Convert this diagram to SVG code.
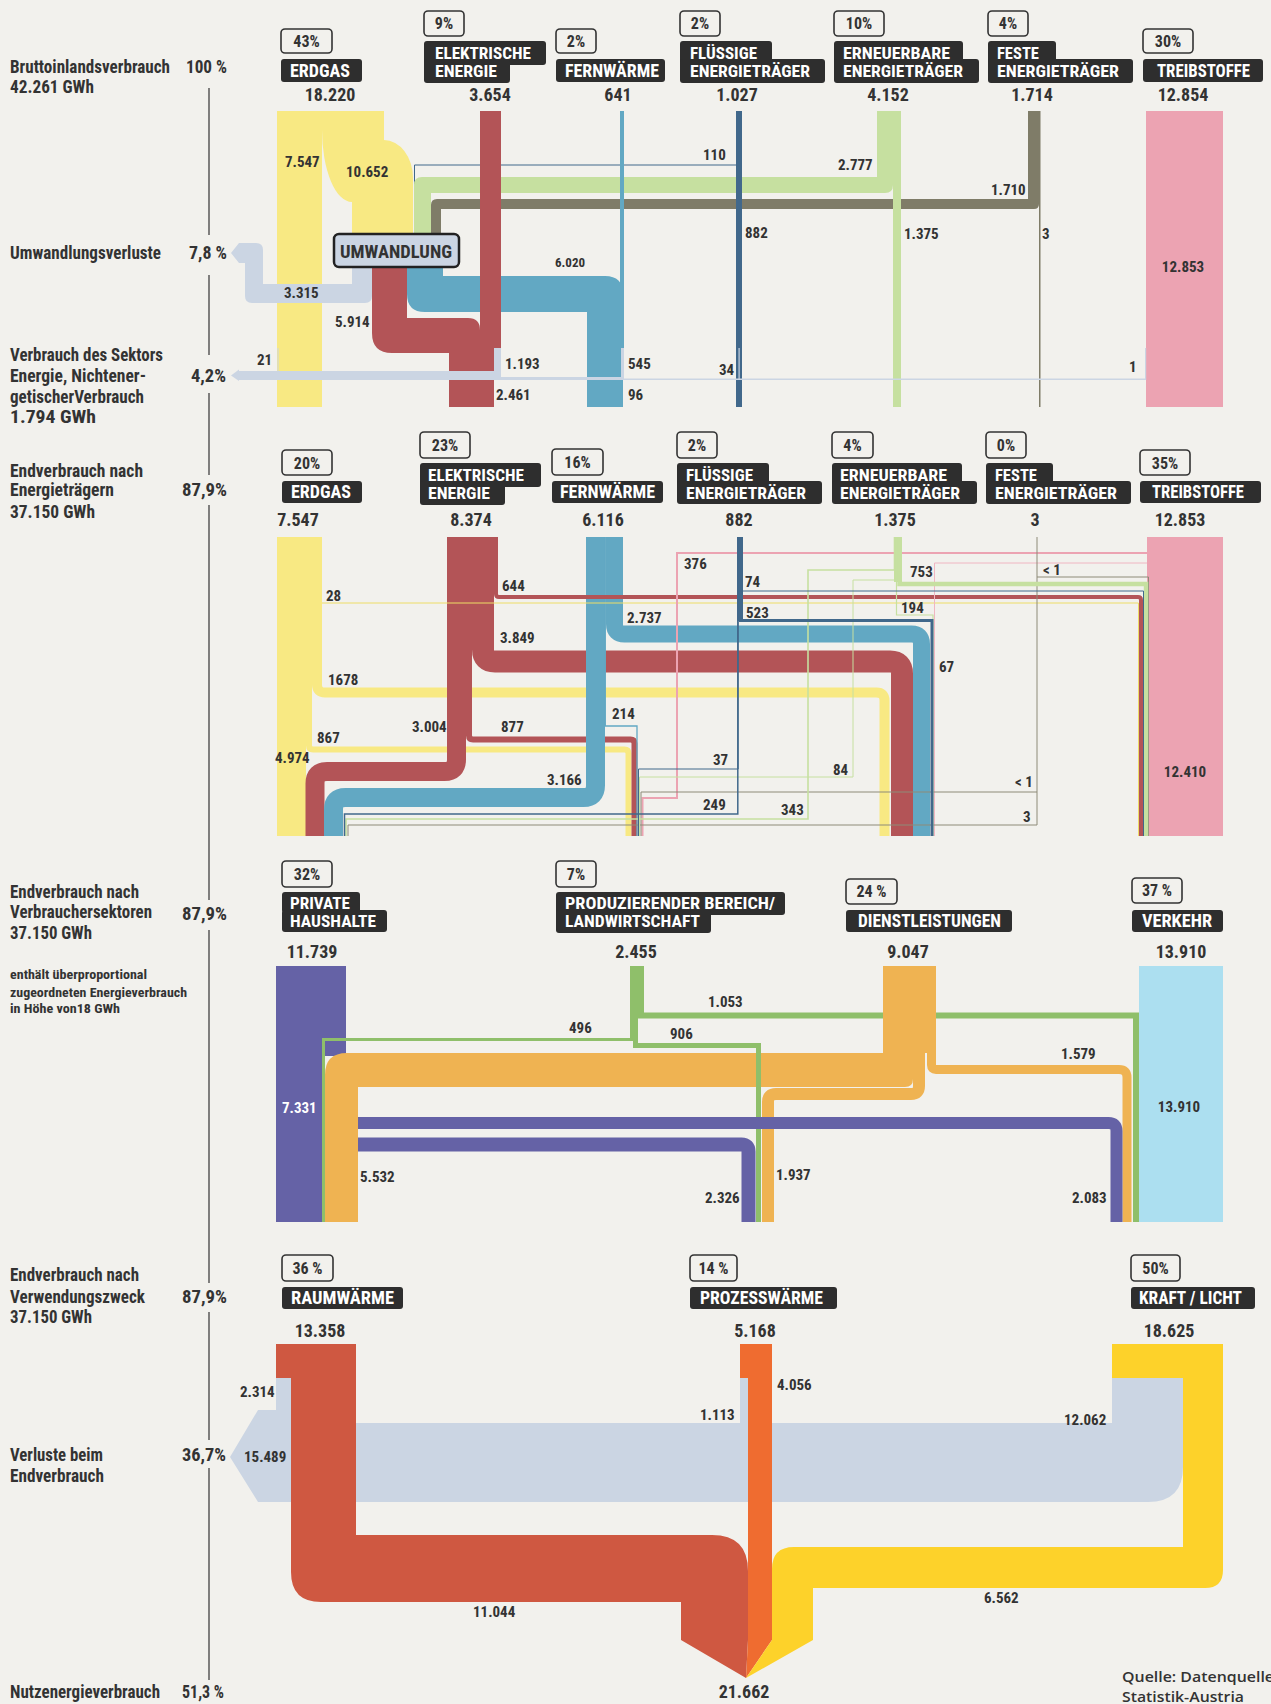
<svg xmlns="http://www.w3.org/2000/svg" width="1271" height="1704" viewBox="0 0 1271 1704">
<defs>
<style>
text{font-family:'Liberation Sans Narrow','Roboto Condensed','DejaVu Sans Condensed','Liberation Sans',sans-serif;font-weight:700;fill:#333}
.l{font-size:18px}
.s{font-size:13px}
.h{font-size:18px;fill:#fff}
.h2{font-size:17px;fill:#fff}
.p{font-size:16px;text-anchor:middle}
.v{font-size:18px;text-anchor:middle}
.f{font-size:15px}
.fm{font-size:15px;text-anchor:middle}
.w{fill:#fff}
.hb{fill:#2e2e2e}
.pb{fill:none;stroke:#333;stroke-width:1.6}
.ax{stroke:#333;stroke-width:1.2}
.q{font-family:'Open Sans','Liberation Sans',sans-serif;font-weight:600;font-size:15px}
.b{fill:none}
.cy{stroke:#f8e983}.cr{stroke:#b35457}.cb{stroke:#62a8c3}.cs{stroke:#41688b}.cg{stroke:#c6e0a0}.cf{stroke:#8e8b78}.cp{stroke:#eca3b2}
.cpu{stroke:#6562a6}.co{stroke:#efb352}.cgr{stroke:#8fbf6a}
</style>
</defs>
<rect width="1271" height="1704" fill="#f2f1ed"/>

<g id="legend">
<line class="ax" x1="209" y1="88" x2="209" y2="235"/>
<line class="ax" x1="209" y1="275" x2="209" y2="355"/>
<line class="ax" x1="209" y1="393" x2="209" y2="475"/>
<line class="ax" x1="209" y1="505" x2="209" y2="900"/>
<line class="ax" x1="209" y1="930" x2="209" y2="1283"/>
<line class="ax" x1="209" y1="1312" x2="209" y2="1440"/>
<line class="ax" x1="209" y1="1468" x2="209" y2="1680"/>
<text class="l" x="10" y="73" textLength="160" lengthAdjust="spacingAndGlyphs">Bruttoinlandsverbrauch</text>
<text class="l" x="10" y="93" textLength="84" lengthAdjust="spacingAndGlyphs">42.261 GWh</text>
<text class="l" x="186" y="73" textLength="41" lengthAdjust="spacingAndGlyphs">100 %</text>
<text class="l" x="10" y="259" textLength="151" lengthAdjust="spacingAndGlyphs">Umwandlungsverluste</text>
<text class="l" x="189" y="259" textLength="38" lengthAdjust="spacingAndGlyphs">7,8 %</text>
<text class="l" x="10" y="361" textLength="153" lengthAdjust="spacingAndGlyphs">Verbrauch des Sektors</text>
<text class="l" x="10" y="382" textLength="136" lengthAdjust="spacingAndGlyphs">Energie, Nichtener-</text>
<text class="l" x="10" y="403" textLength="134" lengthAdjust="spacingAndGlyphs">getischerVerbrauch</text>
<text class="l" x="10" y="423" textLength="86" lengthAdjust="spacingAndGlyphs">1.794 GWh</text>
<text class="l" x="191" y="382" textLength="35" lengthAdjust="spacingAndGlyphs">4,2%</text>
<text class="l" x="10" y="477" textLength="133" lengthAdjust="spacingAndGlyphs">Endverbrauch nach</text>
<text class="l" x="10" y="496" textLength="104" lengthAdjust="spacingAndGlyphs">Energieträgern</text>
<text class="l" x="10" y="518" textLength="85" lengthAdjust="spacingAndGlyphs">37.150 GWh</text>
<text class="l" x="182" y="496" textLength="45" lengthAdjust="spacingAndGlyphs">87,9%</text>
<text class="l" x="10" y="898" textLength="129" lengthAdjust="spacingAndGlyphs">Endverbrauch nach</text>
<text class="l" x="10" y="918" textLength="142" lengthAdjust="spacingAndGlyphs">Verbrauchersektoren</text>
<text class="l" x="10" y="939" textLength="82" lengthAdjust="spacingAndGlyphs">37.150 GWh</text>
<text class="l" x="182" y="920" textLength="45" lengthAdjust="spacingAndGlyphs">87,9%</text>
<text class="s" x="10" y="979" textLength="137" lengthAdjust="spacingAndGlyphs">enthält überproportional</text>
<text class="s" x="10" y="997" textLength="177" lengthAdjust="spacingAndGlyphs">zugeordneten Energieverbrauch</text>
<text class="s" x="10" y="1013" textLength="110" lengthAdjust="spacingAndGlyphs">in Höhe von18 GWh</text>
<text class="l" x="10" y="1281" textLength="129" lengthAdjust="spacingAndGlyphs">Endverbrauch nach</text>
<text class="l" x="10" y="1303" textLength="135" lengthAdjust="spacingAndGlyphs">Verwendungszweck</text>
<text class="l" x="10" y="1323" textLength="82" lengthAdjust="spacingAndGlyphs">37.150 GWh</text>
<text class="l" x="182" y="1303" textLength="45" lengthAdjust="spacingAndGlyphs">87,9%</text>
<text class="l" x="10" y="1461" textLength="93" lengthAdjust="spacingAndGlyphs">Verluste beim</text>
<text class="l" x="10" y="1482" textLength="94" lengthAdjust="spacingAndGlyphs">Endverbrauch</text>
<text class="l" x="182" y="1461" textLength="44" lengthAdjust="spacingAndGlyphs">36,7%</text>
<text class="l" x="10" y="1698" textLength="150" lengthAdjust="spacingAndGlyphs">Nutzenergieverbrauch</text>
<text class="l" x="182" y="1698" textLength="42" lengthAdjust="spacingAndGlyphs">51,3 %</text>
<text class="q" x="1122" y="1682" textLength="152" lengthAdjust="spacingAndGlyphs">Quelle: Datenquelle</text>
<text class="q" x="1122" y="1702" textLength="122" lengthAdjust="spacingAndGlyphs">Statistik-Austria</text>
</g>

<g id="connectors">
<!-- section 1 -->
<path d="M414.5,234V165H737" fill="none" stroke="#41688b" stroke-width="1"/>
<path fill="#7f7c68" d="M431,234V205Q431,199 437,199H1028V111H1039V204Q1039,209 1034,209H441V234Z"/>
<path fill="#c6e0a0" d="M414,234V185Q414,177 422,177H877V111H893V185Q893,193 885,193H431V234Z"/>
<rect fill="#f8e983" x="277" y="111" width="45" height="296"/>
<path fill="#f8e983" d="M322,111H384V140A29,38 0 0 1 413,178V234H352V202A30,72 0 0 1 322,130Z"/>
<path fill="#62a8c3" d="M407,267H443V276H605Q623,276 623,294V407H587V312H425Q407,312 407,294Z"/>
<path fill="#b35457" d="M372,267H407V318H468Q480,318 480,330V407H449V353H392Q372,353 372,333Z"/>
<rect fill="#b35457" x="480" y="111" width="21" height="237"/>
<rect fill="#b35457" x="480" y="348" width="14" height="59"/>
<rect fill="#62a8c3" x="620" y="111" width="4" height="237"/>
<rect fill="#41688b" x="736" y="111" width="6" height="296"/>
<rect fill="#c6e0a0" x="893" y="111" width="8" height="296"/>
<rect fill="#7f7c68" x="1039" y="111" width="1.5" height="296"/>
<rect fill="#eca3b2" x="1146" y="111" width="77" height="296"/>
<path fill="#cbd5e3" d="M352,267H372V296Q372,303 365,303H252Q245,303 245,296V263H239L231,253L239,243H256Q263,243 263,250V284H352Z"/>
<g fill="#cbd5e3">
<rect x="238" y="371" width="263" height="9"/>
<rect x="501" y="377" width="123" height="3"/>
<rect x="624" y="378.5" width="522" height="1.5"/>
<rect x="494" y="348" width="7" height="32"/>
<rect x="621" y="348" width="3" height="32"/>
<rect x="738.5" y="348" width="1.2" height="32"/>
<rect x="1145" y="348" width="1.2" height="32"/>
<rect x="277.5" y="348" width="1" height="25"/>
<path d="M231,375.5L239,369.5V381Z"/>
</g>

<!-- section 2 -->
<rect fill="#f8e983" x="277" y="537" width="29" height="299"/>
<path class="b cy" stroke-width="10" d="M317,537V684.5Q317,692.5 325,692.5H876.5Q884.5,692.5 884.5,700.5V836"/>
<path class="b cy" stroke-width="6" d="M309,537V745.5Q309,749.5 313,749.5H624.5Q628.5,749.5 628.5,753.5V836"/>
<path class="b cr" stroke-width="19" d="M456.5,537V759.5Q456.5,771.5 444.5,771.5H327Q315,771.5 315,783.5V836"/>
<path class="b cr" stroke-width="6" d="M469,537V735.5Q469,739.5 473,739.5H630.5Q634.5,739.5 634.5,743.5V836"/>
<path class="b cr" stroke-width="22" d="M483,537V649.5Q483,661.5 495,661.5H890Q902,661.5 902,673.5V836"/>
<path class="b cb" stroke-width="19" d="M595.5,537V785.5Q595.5,797.5 583.5,797.5H345.5Q333.5,797.5 333.5,809.5V836"/>
<path class="b cb" stroke-width="17" d="M614.5,537V624Q614.5,634 624.5,634H911.5Q921.5,634 921.5,644V836"/>
<path class="b cb" stroke-width="1.3" d="M605.3,537V726H637V836"/>
<path class="b cr" stroke-width="4" d="M496,537V594Q496,597 499,597H1138Q1141,597 1141,600V836"/>
<path class="b" stroke="#eedd66" stroke-width="1" d="M322,603H1138.5V836"/>
<rect fill="#eca3b2" x="1147" y="537" width="76" height="299"/>
<path class="b cp" stroke-width="2" d="M1147,553H677V798H642.5V836"/>
<path class="b" stroke="#f0b6c2" stroke-width="1" d="M1147,563H934.5V836"/>
<path class="b cf" stroke-width="1" d="M1037,537V577H1148.5V836"/>
<path class="b cf" stroke-width="1" d="M1037,577V792H641V836"/>
<path class="b cf" stroke-width="1" d="M1037,792V825H348V836"/>
<rect fill="#c6e0a0" x="894" y="537" width="8" height="45"/>
<path class="b cg" stroke-width="1.6" d="M894.5,537V570H808V819H346V836"/>
<path class="b cg" stroke-width="1" d="M895.5,537V580H853V777H639.5V836"/>
<path class="b cg" stroke-width="1.2" d="M896.5,537V615H933V836"/>
<path class="b cg" stroke-width="4.4" d="M899.5,537V584H1146V836"/>
<rect fill="#41688b" x="737" y="537" width="6" height="84"/>
<path class="b cs" stroke-width="1" d="M742.5,537V591H1143.5V836"/>
<path class="b cs" stroke-width="3" d="M740.5,537V620.5H932V836"/>
<path class="b cs" stroke-width="1" d="M738.2,537V769H638.5V836"/>
<path class="b cs" stroke-width="1.5" d="M737.8,537V814H344.5V836"/>

<!-- section 3 -->
<rect fill="#6562a6" x="276" y="966" width="70" height="90"/>
<rect fill="#6562a6" x="276" y="966" width="46" height="256"/>
<rect fill="#acdff0" x="1139" y="966" width="84" height="256"/>
<path fill="#efb352" d="M883,966H913V1079Q913,1087 905,1087H358V1222H325V1075Q325,1053 347,1053H883Z"/>
<path class="b cgr" stroke-width="3" d="M631.5,966V1039.5H323.5V1222"/>
<path class="b cgr" stroke-width="5" d="M635.5,966V1045.5H758.5V1222"/>
<path class="b cgr" stroke-width="6" d="M641,966V1015.5H1136V1222"/>
<rect fill="#efb352" x="883" y="966" width="53" height="87"/>
<path class="b co" stroke-width="12" d="M919,966V1086Q919,1094 911,1094H776Q768,1094 768,1102V1222"/>
<path class="b co" stroke-width="9" d="M931.5,966V1065Q931.5,1069.5 936,1069.5H1119Q1127,1069.5 1127,1077.5V1222"/>
<path class="b cpu" stroke-width="12" d="M358,1123H1108.5Q1116.5,1123 1116.5,1131V1222"/>
<path class="b cpu" stroke-width="14" d="M358,1144.5H741.5Q748.5,1144.5 748.5,1151.5V1222"/>

<!-- section 4 -->
<path fill="#cbd5e3" d="M276,1378H291V1423H740V1378H748V1423H1112V1378H1183V1467Q1183,1502 1148,1502H258L230,1457L258,1410H276Z"/>
<rect fill="#cf5841" x="276" y="1344" width="80" height="34"/>
<path fill="#cf5841" d="M291,1344H356V1535H712Q748,1535 748,1571V1640L746,1678L681,1640V1602H321Q291,1602 291,1572Z"/>
<rect fill="#ef6c30" x="740" y="1344" width="32" height="34"/>
<path fill="#ef6c30" d="M748,1344H772V1640L746,1678L748,1640Z"/>
<rect fill="#fdd22a" x="1112" y="1344" width="111" height="34"/>
<path fill="#fdd22a" d="M1183,1344H1223V1570Q1223,1588 1205,1588H813V1640L746,1678L772,1640V1569Q772,1547 794,1547H1183Z"/>
</g>

<!-- section 1 nodes -->
<g id="node-erdgas-1">
<rect class="pb" x="281" y="29" width="51" height="24" rx="4"/><text class="p" x="306.5" y="47">43%</text>
<rect class="hb" x="281" y="59" width="81" height="23" rx="3"/><text class="h" x="290" y="77" textLength="60" lengthAdjust="spacingAndGlyphs">ERDGAS</text>
<text class="v" x="330" y="101">18.220</text>
</g>
<g id="node-elektrische-1">
<rect class="pb" x="424" y="11" width="40" height="25" rx="4"/><text class="p" x="444" y="29">9%</text>
<rect class="hb" x="424" y="41" width="122" height="24" rx="3"/><rect class="hb" x="424" y="59" width="86" height="24" rx="3"/>
<text class="h2"><tspan x="435" y="59" textLength="96" lengthAdjust="spacingAndGlyphs">ELEKTRISCHE</tspan><tspan x="435" y="77" textLength="62" lengthAdjust="spacingAndGlyphs">ENERGIE</tspan></text>
<text class="v" x="490" y="101">3.654</text>
</g>
<g id="node-fernwaerme-1">
<rect class="pb" x="556" y="29" width="40" height="24" rx="4"/><text class="p" x="576" y="47">2%</text>
<rect class="hb" x="556" y="59" width="109" height="23" rx="3"/><text class="h" x="565" y="77" textLength="94" lengthAdjust="spacingAndGlyphs">FERNWÄRME</text>
<text class="v" x="618" y="101">641</text>
</g>
<g id="node-fluessige-1">
<rect class="pb" x="680" y="11" width="40" height="25" rx="4"/><text class="p" x="700" y="29">2%</text>
<rect class="hb" x="680" y="41" width="92" height="24" rx="3"/><rect class="hb" x="680" y="59" width="145" height="24" rx="3"/>
<text class="h2"><tspan x="690" y="59" textLength="67" lengthAdjust="spacingAndGlyphs">FLÜSSIGE</tspan><tspan x="690" y="77" textLength="120" lengthAdjust="spacingAndGlyphs">ENERGIETRÄGER</tspan></text>
<text class="v" x="737" y="101">1.027</text>
</g>
<g id="node-erneuerbare-1">
<rect class="pb" x="834" y="11" width="50" height="25" rx="4"/><text class="p" x="859" y="29">10%</text>
<rect class="hb" x="834" y="41" width="129" height="24" rx="3"/><rect class="hb" x="834" y="59" width="145" height="24" rx="3"/>
<text class="h2"><tspan x="843" y="59" textLength="107" lengthAdjust="spacingAndGlyphs">ERNEUERBARE</tspan><tspan x="843" y="77" textLength="120" lengthAdjust="spacingAndGlyphs">ENERGIETRÄGER</tspan></text>
<text class="v" x="888" y="101">4.152</text>
</g>
<g id="node-feste-1">
<rect class="pb" x="988" y="11" width="40" height="25" rx="4"/><text class="p" x="1008" y="29">4%</text>
<rect class="hb" x="988" y="41" width="68" height="24" rx="3"/><rect class="hb" x="988" y="59" width="145" height="24" rx="3"/>
<text class="h2"><tspan x="997" y="59" textLength="42" lengthAdjust="spacingAndGlyphs">FESTE</tspan><tspan x="997" y="77" textLength="122" lengthAdjust="spacingAndGlyphs">ENERGIETRÄGER</tspan></text>
<text class="v" x="1032" y="101">1.714</text>
</g>
<g id="node-treibstoffe-1">
<rect class="pb" x="1143" y="29" width="50" height="24" rx="4"/><text class="p" x="1168" y="47">30%</text>
<rect class="hb" x="1143" y="59" width="120" height="23" rx="3"/><text class="h" x="1157" y="77" textLength="93" lengthAdjust="spacingAndGlyphs">TREIBSTOFFE</text>
<text class="v" x="1183" y="101">12.854</text>
</g>
<g id="node-umwandlung">
<rect x="334" y="234" width="125" height="33" rx="5" fill="#cbd5e3" stroke="#222" stroke-width="2.5"/>
<text class="l" x="340" y="258" textLength="112" lengthAdjust="spacingAndGlyphs">UMWANDLUNG</text>
</g>

<!-- section 2 nodes -->
<g id="node-erdgas-2">
<rect class="pb" x="282" y="450" width="50" height="25" rx="4"/><text class="p" x="307" y="469">20%</text>
<rect class="hb" x="282" y="481" width="80" height="22" rx="3"/><text class="h" x="291" y="498" textLength="60" lengthAdjust="spacingAndGlyphs">ERDGAS</text>
<text class="v" x="298" y="526">7.547</text>
</g>
<g id="node-elektrische-2">
<rect class="pb" x="420" y="432" width="50" height="26" rx="4"/><text class="p" x="445" y="451">23%</text>
<rect class="hb" x="420" y="463" width="121" height="24" rx="3"/><rect class="hb" x="420" y="481" width="85" height="24" rx="3"/>
<text class="h2"><tspan x="428" y="481" textLength="96" lengthAdjust="spacingAndGlyphs">ELEKTRISCHE</tspan><tspan x="428" y="499" textLength="62" lengthAdjust="spacingAndGlyphs">ENERGIE</tspan></text>
<text class="v" x="471" y="526">8.374</text>
</g>
<g id="node-fernwaerme-2">
<rect class="pb" x="552" y="449" width="51" height="26" rx="4"/><text class="p" x="577.5" y="468">16%</text>
<rect class="hb" x="552" y="481" width="111" height="22" rx="3"/><text class="h" x="560" y="498" textLength="95" lengthAdjust="spacingAndGlyphs">FERNWÄRME</text>
<text class="v" x="603" y="526">6.116</text>
</g>
<g id="node-fluessige-2">
<rect class="pb" x="677" y="432" width="40" height="26" rx="4"/><text class="p" x="697" y="451">2%</text>
<rect class="hb" x="677" y="463" width="92" height="24" rx="3"/><rect class="hb" x="677" y="481" width="145" height="23" rx="3"/>
<text class="h2"><tspan x="686" y="481" textLength="67" lengthAdjust="spacingAndGlyphs">FLÜSSIGE</tspan><tspan x="686" y="499" textLength="120" lengthAdjust="spacingAndGlyphs">ENERGIETRÄGER</tspan></text>
<text class="v" x="739" y="526">882</text>
</g>
<g id="node-erneuerbare-2">
<rect class="pb" x="832" y="432" width="41" height="26" rx="4"/><text class="p" x="852.5" y="451">4%</text>
<rect class="hb" x="832" y="463" width="130" height="24" rx="3"/><rect class="hb" x="832" y="481" width="145" height="23" rx="3"/>
<text class="h2"><tspan x="840" y="481" textLength="107" lengthAdjust="spacingAndGlyphs">ERNEUERBARE</tspan><tspan x="840" y="499" textLength="120" lengthAdjust="spacingAndGlyphs">ENERGIETRÄGER</tspan></text>
<text class="v" x="895" y="526">1.375</text>
</g>
<g id="node-feste-2">
<rect class="pb" x="986" y="432" width="40" height="26" rx="4"/><text class="p" x="1006" y="451">0%</text>
<rect class="hb" x="986" y="463" width="67" height="24" rx="3"/><rect class="hb" x="986" y="481" width="145" height="23" rx="3"/>
<text class="h2"><tspan x="995" y="481" textLength="42" lengthAdjust="spacingAndGlyphs">FESTE</tspan><tspan x="995" y="499" textLength="122" lengthAdjust="spacingAndGlyphs">ENERGIETRÄGER</tspan></text>
<text class="v" x="1035" y="526">3</text>
</g>
<g id="node-treibstoffe-2">
<rect class="pb" x="1140" y="450" width="50" height="25" rx="4"/><text class="p" x="1165" y="469">35%</text>
<rect class="hb" x="1140" y="481" width="121" height="22" rx="3"/><text class="h" x="1152" y="498" textLength="92" lengthAdjust="spacingAndGlyphs">TREIBSTOFFE</text>
<text class="v" x="1180" y="526">12.853</text>
</g>

<!-- section 3 nodes -->
<g id="node-haushalte">
<rect class="pb" x="282" y="861" width="50" height="26" rx="4"/><text class="p" x="307" y="880">32%</text>
<rect class="hb" x="282" y="892" width="78" height="21" rx="3"/><rect class="hb" x="282" y="910" width="105" height="22" rx="3"/>
<text class="h2"><tspan x="290" y="909" textLength="60" lengthAdjust="spacingAndGlyphs">PRIVATE</tspan><tspan x="290" y="927" textLength="86" lengthAdjust="spacingAndGlyphs">HAUSHALTE</tspan></text>
<text class="v" x="312" y="958">11.739</text>
</g>
<g id="node-produzierender">
<rect class="pb" x="556" y="861" width="40" height="26" rx="4"/><text class="p" x="576" y="880">7%</text>
<rect class="hb" x="556" y="892" width="229" height="23" rx="3"/><rect class="hb" x="556" y="910" width="155" height="23" rx="3"/>
<text class="h2"><tspan x="565" y="909" textLength="210" lengthAdjust="spacingAndGlyphs">PRODUZIERENDER BEREICH/</tspan><tspan x="565" y="927" textLength="135" lengthAdjust="spacingAndGlyphs">LANDWIRTSCHAFT</tspan></text>
<text class="v" x="636" y="958">2.455</text>
</g>
<g id="node-dienstleistungen">
<rect class="pb" x="846" y="879" width="51" height="25" rx="4"/><text class="p" x="871.5" y="897">24 %</text>
<rect class="hb" x="846" y="910" width="166" height="22" rx="3"/><text class="h" x="858" y="927" textLength="143" lengthAdjust="spacingAndGlyphs">DIENSTLEISTUNGEN</text>
<text class="v" x="908" y="958">9.047</text>
</g>
<g id="node-verkehr">
<rect class="pb" x="1132" y="878" width="50" height="25" rx="4"/><text class="p" x="1157" y="896">37 %</text>
<rect class="hb" x="1132" y="910" width="91" height="22" rx="3"/><text class="h" x="1142" y="927" textLength="70" lengthAdjust="spacingAndGlyphs">VERKEHR</text>
<text class="v" x="1181" y="958">13.910</text>
</g>

<!-- section 4 nodes -->
<g id="node-raumwaerme">
<rect class="pb" x="282" y="1255" width="51" height="26" rx="4"/><text class="p" x="307.5" y="1274">36 %</text>
<rect class="hb" x="282" y="1287" width="121" height="22" rx="3"/><text class="h" x="291" y="1304" textLength="103" lengthAdjust="spacingAndGlyphs">RAUMWÄRME</text>
<text class="v" x="320" y="1337">13.358</text>
</g>
<g id="node-prozesswaerme">
<rect class="pb" x="690" y="1255" width="47" height="26" rx="4"/><text class="p" x="713.5" y="1274">14 %</text>
<rect class="hb" x="690" y="1287" width="147" height="22" rx="3"/><text class="h" x="700" y="1304" textLength="123" lengthAdjust="spacingAndGlyphs">PROZESSWÄRME</text>
<text class="v" x="755" y="1337">5.168</text>
</g>
<g id="node-kraft-licht">
<rect class="pb" x="1131" y="1255" width="49" height="26" rx="4"/><text class="p" x="1155.5" y="1274">50%</text>
<rect class="hb" x="1131" y="1287" width="124" height="22" rx="3"/><text class="h" x="1139" y="1304" textLength="103" lengthAdjust="spacingAndGlyphs">KRAFT / LICHT</text>
<text class="v" x="1169" y="1337">18.625</text>
</g>
<g id="node-nutzenergie">
<text class="v" x="744" y="1698">21.662</text>
</g>

<g id="flow-labels">
<text class="f" x="285" y="167">7.547</text>
<text class="f" x="346" y="177">10.652</text>
<text class="f" x="703" y="160">110</text>
<text class="f" x="838" y="170">2.777</text>
<text class="f" x="991" y="195">1.710</text>
<text class="f" x="745" y="238">882</text>
<text class="f" x="904" y="239">1.375</text>
<text class="f" x="1042" y="239">3</text>
<text class="f" x="555" y="267" style="font-size:13px">6.020</text>
<text class="fm" x="1183" y="272">12.853</text>
<text class="f" x="284" y="298">3.315</text>
<text class="f" x="335" y="327">5.914</text>
<text class="f" x="257" y="365">21</text>
<text class="f" x="505" y="369">1.193</text>
<text class="f" x="628" y="369">545</text>
<text class="f" x="719" y="375">34</text>
<text class="f" x="1129" y="372">1</text>
<text class="f" x="496" y="400">2.461</text>
<text class="f" x="628" y="400">96</text>

<text class="f" x="326" y="601">28</text>
<text class="f" x="502" y="591">644</text>
<text class="f" x="684" y="569">376</text>
<text class="f" x="745" y="587">74</text>
<text class="f" x="910" y="577">753</text>
<text class="f" x="1043" y="575">&lt; 1</text>
<text class="f" x="746" y="618">523</text>
<text class="f" x="901" y="613">194</text>
<text class="f" x="627" y="623">2.737</text>
<text class="f" x="500" y="643">3.849</text>
<text class="f" x="939" y="672">67</text>
<text class="f" x="328" y="685">1678</text>
<text class="f" x="612" y="719">214</text>
<text class="f" x="501" y="732">877</text>
<text class="f" x="412" y="732">3.004</text>
<text class="f" x="317" y="743">867</text>
<text class="f" x="275" y="763">4.974</text>
<text class="f" x="713" y="765">37</text>
<text class="f" x="833" y="775">84</text>
<text class="f" x="547" y="785">3.166</text>
<text class="f" x="1015" y="787">&lt; 1</text>
<text class="f" x="703" y="810">249</text>
<text class="f" x="781" y="815">343</text>
<text class="f" x="1023" y="822">3</text>
<text class="fm" x="1185" y="777">12.410</text>

<text class="f w" x="282" y="1113">7.331</text>
<text class="f" x="569" y="1033">496</text>
<text class="f" x="708" y="1007">1.053</text>
<text class="f" x="670" y="1039">906</text>
<text class="f" x="1061" y="1059">1.579</text>
<text class="fm" x="1179" y="1112">13.910</text>
<text class="f" x="360" y="1182">5.532</text>
<text class="f" x="776" y="1180">1.937</text>
<text class="f" x="705" y="1203">2.326</text>
<text class="f" x="1072" y="1203">2.083</text>

<text class="f" x="240" y="1397">2.314</text>
<text class="f" x="244" y="1462">15.489</text>
<text class="f" x="700" y="1420">1.113</text>
<text class="f" x="777" y="1390">4.056</text>
<text class="f" x="1064" y="1425">12.062</text>
<text class="f" x="473" y="1617">11.044</text>
<text class="f" x="984" y="1603">6.562</text>
</g>
</svg>
